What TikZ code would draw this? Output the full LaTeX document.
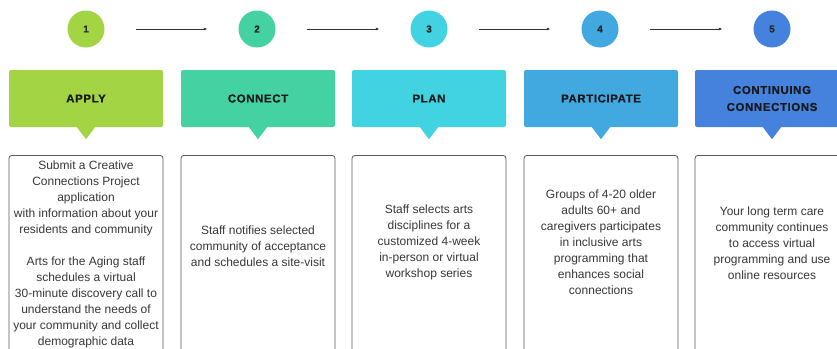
\documentclass[tikz,border=0pt]{standalone}
\usepackage{fontspec}
\setmainfont{Liberation Sans}
\newfontfamily\headfont[LetterSpace=5,FakeBold=0.6]{Liberation Sans}
\usetikzlibrary{arrows.meta}

\definecolor{applycol}{HTML}{A3D444}
\definecolor{connectcol}{HTML}{45D2A2}
\definecolor{plancol}{HTML}{41D3E1}
\definecolor{partcol}{HTML}{42A8E0}
\definecolor{contcol}{HTML}{4482DD}

\begin{document}
\begin{tikzpicture}[x=1pt,y=-1pt,
	stepnum/.style={circle, minimum size=37pt, inner sep=0pt, text=black!85, font=\headfont\bfseries\fontsize{10}{10}\selectfont},
	headbox/.style={rectangle, rounded corners=2pt, minimum width=154pt, minimum height=57pt, inner sep=0pt, align=center, text=black!90, font=\headfont\bfseries\fontsize{11.5}{17}\selectfont},
	infobox/.style={draw=black!65, line width=0.8pt, rounded corners=3pt, minimum width=154pt, minimum height=230pt, anchor=north},
	infotext/.style={align=center, inner sep=0pt, text=black!78, font=\fontsize{12}{16}\selectfont},
	flow/.style={-{Latex[length=3.5pt,width=3pt]}, black!80, line width=0.6pt, shorten <=31pt, shorten >=31pt}]
		\clip (0,0) rectangle (837,348);
		\fill[white] (0,0) rectangle (837,348);

		\node[stepnum, fill=applycol] (c1) at (86,29) {1};
		\node[stepnum, fill=connectcol] (c2) at (257,29) {2};
		\node[stepnum, fill=plancol] (c3) at (429,29) {3};
		\node[stepnum, fill=partcol] (c4) at (600,29) {4};
		\node[stepnum, fill=contcol] (c5) at (772,29) {5};

		\draw[flow] (c1) -- (c2);
		\draw[flow] (c2) -- (c3);
		\draw[flow] (c3) -- (c4);
		\draw[flow] (c4) -- (c5);

		\node[headbox, fill=applycol] (h1) at (86,98.5) {APPLY};
		\node[headbox, fill=connectcol] (h2) at (258,98.5) {CONNECT};
		\node[headbox, fill=plancol] (h3) at (429,98.5) {PLAN};
		\node[headbox, fill=partcol] (h4) at (601,98.5) {PARTICIPATE};
		\node[headbox, fill=contcol] (h5) at (772,98.5) {CONTINUING\\CONNECTIONS};

		\fill[applycol] ([xshift=-9.5pt,yshift=0.5pt]h1.south) -- ([yshift=-12pt]h1.south) -- ([xshift=9.5pt,yshift=0.5pt]h1.south) -- cycle;
		\fill[connectcol] ([xshift=-9.5pt,yshift=0.5pt]h2.south) -- ([yshift=-12pt]h2.south) -- ([xshift=9.5pt,yshift=0.5pt]h2.south) -- cycle;
		\fill[plancol] ([xshift=-9.5pt,yshift=0.5pt]h3.south) -- ([yshift=-12pt]h3.south) -- ([xshift=9.5pt,yshift=0.5pt]h3.south) -- cycle;
		\fill[partcol] ([xshift=-9.5pt,yshift=0.5pt]h4.south) -- ([yshift=-12pt]h4.south) -- ([xshift=9.5pt,yshift=0.5pt]h4.south) -- cycle;
		\fill[contcol] ([xshift=-9.5pt,yshift=0.5pt]h5.south) -- ([yshift=-12pt]h5.south) -- ([xshift=9.5pt,yshift=0.5pt]h5.south) -- cycle;

		\node[infobox] (b1) at (86,155) {};
		\node[infobox] (b2) at (258,155) {};
		\node[infobox] (b3) at (429,155) {};
		\node[infobox] (b4) at (601,155) {};
		\node[infobox] (b5) at (772,155) {};

		\node[infotext] (s1) at (86,254) {Submit a Creative\\Connections Project\\application\\with information about your\\residents and community\\[16pt]Arts for the Aging staff\\schedules a virtual\\30-minute discovery call to\\understand the needs of\\your community and collect\\demographic data};
		\node[infotext] (s2) at (258,246) {Staff notifies selected\\community of acceptance\\and schedules a site-visit};
		\node[infotext] (s3) at (429,242) {Staff selects arts\\disciplines for a\\customized 4-week\\in-person or virtual\\workshop series};
		\node[infotext] (s4) at (601,242) {Groups of 4-20 older\\adults 60+ and\\caregivers participates\\in inclusive arts\\programming that\\enhances social\\connections};
		\node[infotext] (s5) at (772,243) {Your long term care\\community continues\\to access virtual\\programming and use\\online resources};
	\end{tikzpicture}
\end{document}
